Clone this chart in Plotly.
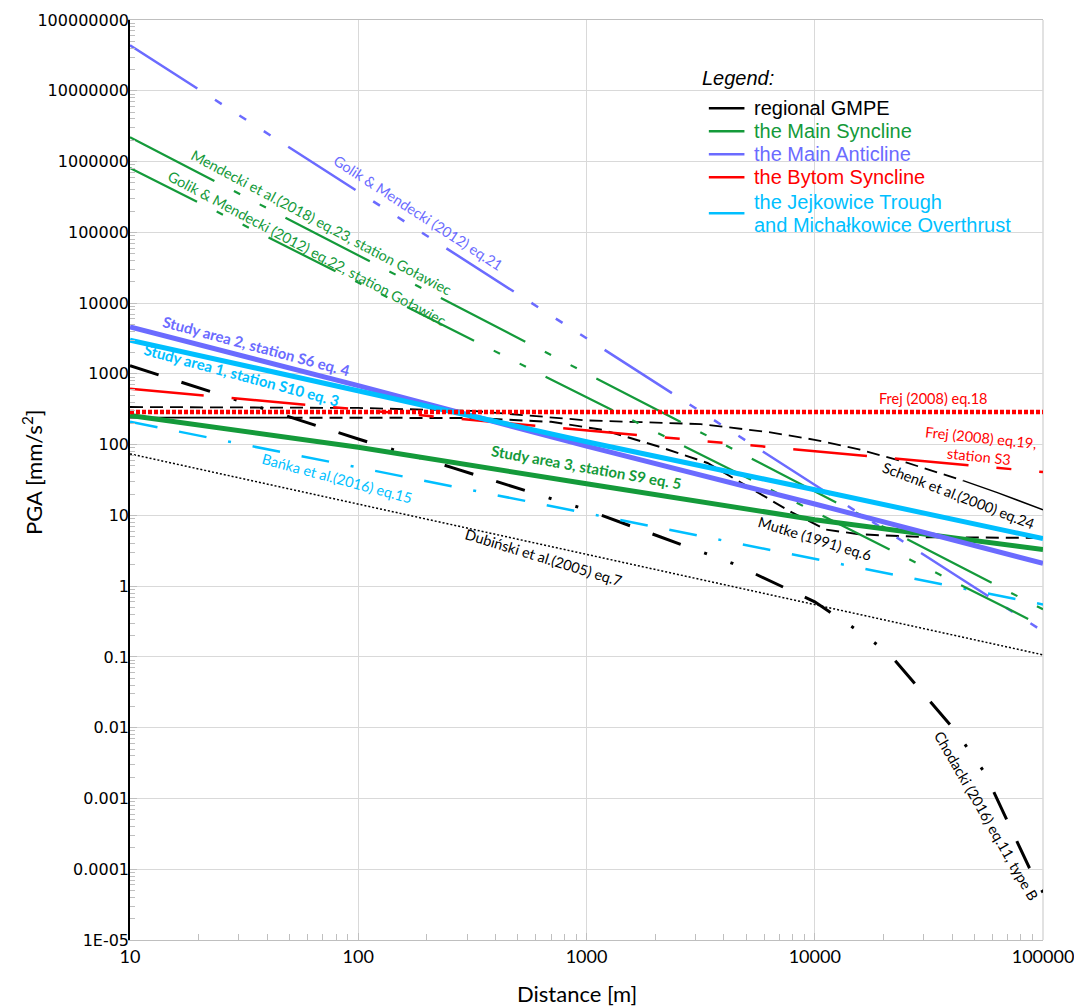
import numpy as np
import plotly.graph_objects as go

# ---------------- data (distance [m], PGA [mm/s^2]) ----------------
golik21_x = [10, 100000]
golik21_y = [4.4e7, 0.23]

mend23_x = [10, 100000]
mend23_y = [2.2e6, 0.47]

golik22_x = [10, 100000]
golik22_y = [8.1e5, 0.27]

study2_x = [10, 100, 1000, 10000, 100000]
study2_y = [4600, 680, 95, 14.5, 2.1]

study1_x = [10, 100, 1000, 10000, 100000]
study1_y = [3000, 575, 110, 23, 4.7]

study3_x = [10, 100, 1000, 10000, 100000]
study3_y = [257, 92, 28, 8.7, 3.3]

banka_x = [10, 100000]
banka_y = [210, 0.55]

dubin_x = [10, 100000]
dubin_y = [74, 0.107]

frej18_x = [10, 100000]
frej18_y = [290, 290]

frej19_x = [10, 100000]
frej19_y = [617, 41]

schenk_x = [10, 100, 316, 1000, 3160, 6300, 10000, 15800, 25100, 44700, 63100, 100000]
schenk_y = [340, 330, 300, 220, 195, 150, 117, 85, 56, 31, 21, 12]

mutke_x = [10, 50, 100, 316, 700, 1175, 2090, 3390, 7940, 11200, 15800, 31600, 100000]
mutke_y = [240, 240, 240, 238, 210, 162, 93, 55, 11, 6.3, 5.4, 4.9, 4.8]

chod_x = [10, 20, 100, 260, 1000, 4365, 10000, 13800, 17000, 21400, 29500, 35500,
          41700, 55600, 69200, 87100, 100000]
chod_y = [1300, 630, 120, 47, 12, 2.1, 0.6, 0.30, 0.19, 0.107, 0.032, 0.016,
          0.0087, 0.0023, 0.0005, 0.000105, 0.000047]

x_tick_vals = [10, 100, 1000, 10000, 100000]
x_tick_text = ["10", "100", "1000", "10000", "100000"]
y_tick_vals = [1e-5, 1e-4, 1e-3, 1e-2, 1e-1, 1, 10, 100, 1e3, 1e4, 1e5, 1e6, 1e7, 1e8]
y_tick_text = ["1E-05", "0.0001", "0.001", "0.01", "0.1", "1", "10", "100", "1000",
               "10000", "100000", "1000000", "10000000", "100000000"]

legend_title = "Legend:"
legend_names = ["regional GMPE", "the Main Syncline", "the Main Anticline",
                "the Bytom Syncline", ["the Jejkowice Trough", "and Michałkowice Overthrust"]]
legend_keys = ["black", "green", "purple", "red", "cyan"]

# label texts and anchor positions (distance, PGA)
labels = [
    ("Golik & Mendecki (2012) eq.21", 182, 1.88e5, 33, "purple", 14.5, False),
    ("Mendecki et al.(2018) eq.23, station Goławiec", 69, 1.36e5, 28, "green", 14.5, False),
    ("Golik & Mendecki (2012) eq.22, station Goławiec", 60, 6.0e4, 28, "green", 14.5, False),
    ("Study area 2, station S6 eq. 4", 36, 2480, 15, "purple", 15, True),
    ("Study area 1, station S10 eq. 3", 31, 964, 15, "cyan", 15, True),
    ("Study area 3, station S9 eq. 5", 1005, 48.3, 10, "green", 15, True),
    ("Bańka et al.(2016) eq.15", 81.5, 33.7, 15, "cyan", 14.5, False),
    ("Dubiński et al.(2005) eq.7", 650, 2.5, 17, "black", 14.5, False),
    ("Mutke (1991) eq.6", 10000, 4.65, 17, "black", 14.5, False),
    ("Schenk et al.(2000) eq.24", 42760, 19.4, 21, "black", 14.5, False),
    ("Frej (2008) eq.18", 33270, 442, 0, "red", 14.5, False),
    ("Frej (2008) eq.19,<br>station S3", 52840, 92.7, 6, "red", 14.5, False),
    ("Chodacki (2016) eq.11, type B", 56230, 5.7e-4, 60, "black", 14.5, False),
]

# ---------------- styling ----------------
COL = {
    "black": "#000000",
    "green": "#149A3A",
    "purple": "#6B6BFF",
    "red": "#FF0000",
    "cyan": "#00BFFF",
}
GRID = "#D9D9D9"
LABEL_FONT = "Lato"
LEG_FONT = "Liberation Sans"

fig = go.Figure()


def add(x, y, color, width, dash):
    fig.add_trace(go.Scatter(x=x, y=y, mode="lines",
                             line=dict(color=color, width=width, dash=dash),
                             showlegend=False, hoverinfo="skip"))


add(dubin_x, dubin_y, COL["black"], 1.5, "2px,2px")
# Schenk: dashed then solid tail
split_s = schenk_x.index(44700)
add(schenk_x[:split_s + 1], schenk_y[:split_s + 1], COL["black"], 1.8, "13px,7px")
add(schenk_x[split_s:], schenk_y[split_s:], COL["black"], 1.5, "solid")
# Mutke: solid start then dashed
split_m = mutke_x.index(50)
add(mutke_x[:split_m + 1], mutke_y[:split_m + 1], COL["black"], 1.8, "solid")
add(mutke_x[split_m:], mutke_y[split_m:], COL["black"], 2, "13px,7px")
add(chod_x, chod_y, COL["black"], 3, "30px,24px,30px,25px,3px,25px,3px,25px")
add(banka_x, banka_y, COL["cyan"], 2.5, "28px,22px,28px,22px,3px,22px")
add(frej19_x, frej19_y, COL["red"], 2.5,
    "74px,28px,74px,28px,15px,28px,15px,28px,15px,28px")
add(golik21_x, golik21_y, COL["purple"], 2.5, "80px,21px,8px,21px,8px,21px,8px,21px")
add(mend23_x, mend23_y, COL["green"], 2.2, "95px,22px,7px,22px,7px,22px")
add(golik22_x, golik22_y, COL["green"], 2.2, "75px,22px,7px,22px,7px,22px")
add(study3_x, study3_y, COL["green"], 5, "solid")
add(study2_x, study2_y, COL["purple"], 5, "solid")
add(study1_x, study1_y, COL["cyan"], 5, "solid")
add(frej18_x, frej18_y, COL["red"], 4.5, "4px,2px")

for text, lx, ly, ang, col, size, bold in labels:
    fig.add_annotation(
        x=np.log10(lx), y=np.log10(ly), xref="x", yref="y",
        text=f"<b>{text}</b>" if bold else text,
        textangle=ang, showarrow=False,
        font=dict(family=LABEL_FONT, size=size, color=COL[col]),
        xanchor="center", yanchor="middle", align="center",
    )

# ---------------- hand-built legend box (paper coordinates) ----------------
LEG_X_TITLE = 0.6245
LEG_X_SAMPLE = (0.634, 0.673)
LEG_X_TEXT = 0.681
LEG_Y_TITLE = 0.937
LEG_ROW_Y = [0.904, 0.879, 0.854, 0.829, 0.790]
LEG_ROW_STEP = 0.025

fig.add_annotation(x=LEG_X_TITLE, y=LEG_Y_TITLE, xref="paper", yref="paper",
                   text=f"<i>{legend_title}</i>", showarrow=False,
                   xanchor="left", yanchor="middle",
                   font=dict(family=LEG_FONT, size=20, color="black"))
for name, key, ry in zip(legend_names, legend_keys, LEG_ROW_Y):
    c = COL[key]
    fig.add_shape(type="line", xref="paper", yref="paper",
                  x0=LEG_X_SAMPLE[0], x1=LEG_X_SAMPLE[1], y0=ry, y1=ry,
                  line=dict(color=c, width=2.5))
    lines = name if isinstance(name, list) else [name]
    n = len(lines)
    for i, ln in enumerate(lines):
        yy = ry + (n - 1) / 2 * LEG_ROW_STEP - i * LEG_ROW_STEP
        fig.add_annotation(x=LEG_X_TEXT, y=yy, xref="paper", yref="paper",
                           text=ln, showarrow=False,
                           xanchor="left", yanchor="middle",
                           font=dict(family=LEG_FONT, size=20, color=c))

# right-hand frame line of the plot area (gray, like the grid)
fig.add_shape(type="line", xref="paper", yref="paper", x0=1, x1=1, y0=0, y1=1,
              line=dict(color=GRID, width=1.5), layer="below")

# axis titles as annotations
fig.add_annotation(x=-0.107, y=0.509, xref="paper", yref="paper",
                   text="PGA [mm/s<sup>2</sup>]", textangle=-90, showarrow=False,
                   xanchor="center", yanchor="middle",
                   font=dict(family=LABEL_FONT, size=22, color="black"))
fig.add_annotation(x=0.49, y=-0.058, xref="paper", yref="paper",
                   text="Distance [m]", showarrow=False,
                   xanchor="center", yanchor="middle",
                   font=dict(family=LABEL_FONT, size=22, color="black"))

minor_x = [m * 10 ** k for k in range(1, 5) for m in range(2, 10)]
minor_y = [m * 10.0 ** k for k in range(-5, 8) for m in range(2, 10)]

fig.update_layout(
    width=1074, height=1007,
    margin=dict(l=130, r=31, t=20, b=67),
    plot_bgcolor="white", paper_bgcolor="white",
    showlegend=False,
    xaxis=dict(
        type="log", range=[1, 5], automargin=False,
        tickmode="array", tickvals=x_tick_vals, ticktext=x_tick_text,
        ticklabeloverflow="allow",
        showgrid=True, gridcolor=GRID, gridwidth=1.3,
        showline=True, linecolor="#BFBFBF", linewidth=1.3, mirror=True,
        ticks="inside", ticklen=7, tickcolor="#BFBFBF",
        minor=dict(tickmode="array", tickvals=minor_x, ticks="inside", ticklen=6,
                   tickcolor="#BFBFBF", showgrid=False),
        tickfont=dict(family=LABEL_FONT, size=18, color="black"),
        zeroline=False,
    ),
    yaxis=dict(
        type="log", range=[-5, 8], automargin=False,
        tickmode="array", tickvals=y_tick_vals, ticktext=y_tick_text,
        ticklabeloverflow="allow",
        showgrid=True, gridcolor=GRID, gridwidth=1.3,
        showline=True, linecolor="black", linewidth=1.5,
        ticks="inside", ticklen=7, tickcolor="#BFBFBF",
        minor=dict(tickmode="array", tickvals=minor_y, ticks="inside", ticklen=5,
                   tickcolor="#BFBFBF", showgrid=False),
        tickfont=dict(family="DejaVu Sans", size=16, color="black"),
        ticklabelstandoff=-4,
        zeroline=False,
    ),
)

fig.write_html("out.html")
